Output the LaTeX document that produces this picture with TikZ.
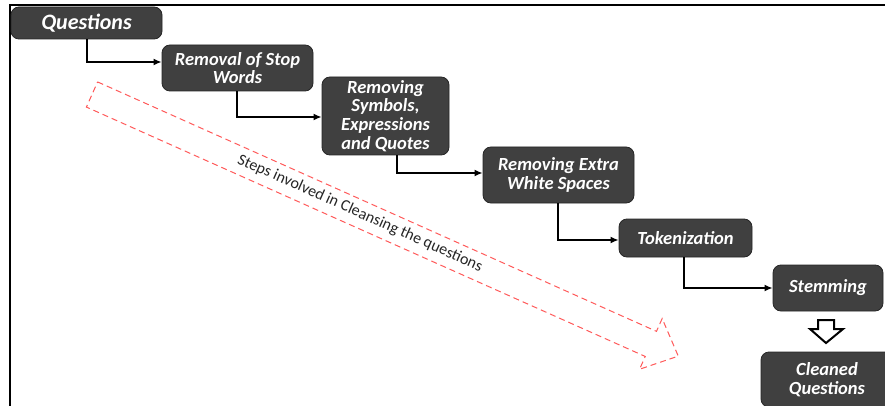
\documentclass[tikz,border=0pt]{standalone}
\usepackage{fontspec}
\setmainfont{Carlito}
\usetikzlibrary{arrows.meta}
\definecolor{boxfill}{HTML}{404040}
\definecolor{boxline}{HTML}{262626}
\definecolor{redline}{HTML}{FF5A5A}
\tikzset{
  stepbox/.style={draw=boxline, line width=0.8pt, fill=boxfill, rounded corners=8pt,
    text=white, align=center, inner sep=0pt,
    font=\fontsize{18.5}{18.8}\selectfont\bfseries\itshape},
  conn/.style={draw=black, line width=2pt, -{Latex[length=8pt,width=7pt]}},
  blockarrow/.style={draw=black, line width=2pt, fill=white, line join=miter},
  frameline/.style={draw=black, line width=2.5pt},
  redarrow/.style={draw=redline, line width=1pt, dash pattern=on 6pt off 4pt, line join=miter},
  steplabel/.style={text=black!85, font=\fontsize{16}{19}\selectfont, inner sep=0pt}
}
\begin{document}
\begin{tikzpicture}[x=1pt, y=-1pt]
\useasboundingbox (0,0) rectangle (885,406);
\clip (0,0) rectangle (885,406);
\fill[white] (0,0) rectangle (885,406);
% frame
\draw[frameline] (10,410) -- (10,5) -- (890,5);
% boxes
\node[stepbox, minimum width=151pt, minimum height=32pt, font=\fontsize{22}{24}\selectfont\bfseries\itshape] (q) at (86.5,23) {Questions};
\node[stepbox, minimum width=151pt, minimum height=46pt] (r1) at (237.5,68) {Removal of Stop\\Words};
\node[stepbox, minimum width=127pt, minimum height=78pt] (r2) at (385.5,116) {Removing\\Symbols,\\Expressions\\and Quotes};
\node[stepbox, minimum width=151pt, minimum height=56pt] (r3) at (558.5,175) {Removing Extra\\White Spaces};
\node[stepbox, minimum width=133pt, minimum height=38pt] (r4) at (685.5,238) {Tokenization};
\node[stepbox, minimum width=110pt, minimum height=46pt] (r5) at (828,288) {Stemming};
\node[stepbox, minimum width=132pt, minimum height=55pt] (r6) at (827,379.5) {Cleaned\\Questions};
% connectors
\draw[conn] (q.south) |- ([yshift=6pt]r1.west);
\draw[conn] ([xshift=-0.5pt]r1.south) |- ([yshift=-1pt]r2.west);
\draw[conn] ([xshift=11.5pt]r2.south) |- ([yshift=2pt]r3.west);
\draw[conn] ([xshift=-0.5pt]r3.south) |- ([yshift=-2pt]r4.west);
\draw[conn] ([xshift=-1.5pt]r4.south) |- (r5.west);
% block arrow between Stemming and Cleaned Questions
\draw[blockarrow] (818,320) -- (834,320) -- (834,329) -- (843,329) -- (826,343) -- (810,329) -- (818,329) -- cycle;
% red dashed arrow
\begin{scope}[shift={(92,94.5)}, rotate=-24.05]
\draw[redarrow] (0,-13.75) -- (612,-13.75) -- (612,-27.75) -- (642,0) -- (612,27.75) -- (612,13.75) -- (0,13.75) -- cycle;
\end{scope}
\node[steplabel, rotate=-24.05] (lbl) at (360,213.5) {Steps involved in Cleansing the questions};
\end{tikzpicture}
\end{document}
